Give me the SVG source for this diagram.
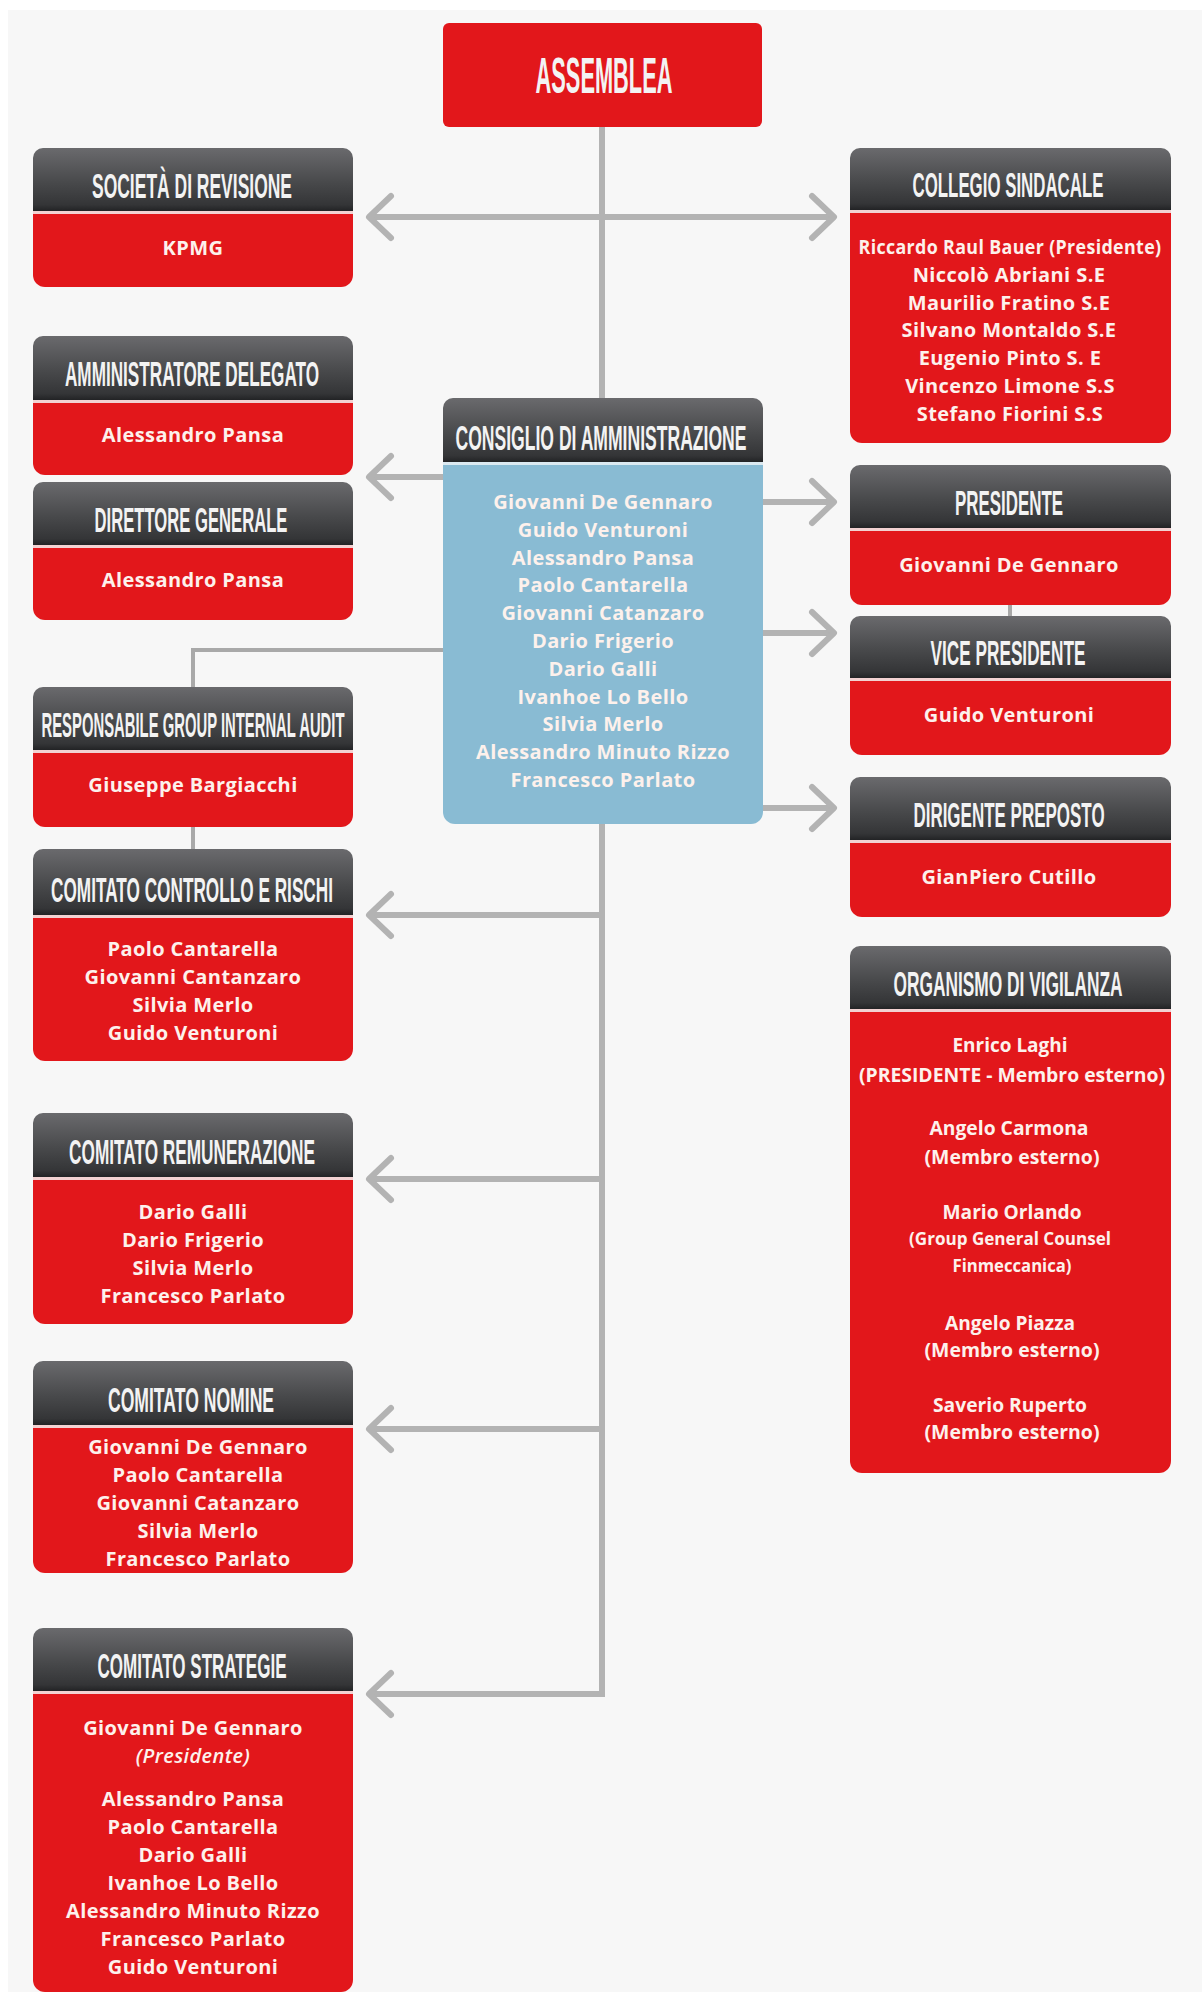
<svg xmlns="http://www.w3.org/2000/svg" width="1202" height="1992" viewBox="0 0 1202 1992">
<defs>
<linearGradient id="hdr" x1="0" y1="0" x2="0" y2="1">
<stop offset="0" stop-color="#6a6a6d"/>
<stop offset="0.55" stop-color="#48494b"/>
<stop offset="0.9" stop-color="#343537"/>
<stop offset="1" stop-color="#222325"/>
</linearGradient>
<marker id="chev" markerUnits="userSpaceOnUse" viewBox="-30 -28 36 56" markerWidth="36" markerHeight="56" refX="0" refY="0" orient="auto" overflow="visible">
<path d="M-22,-21 L0,0 L-22,21" fill="none" stroke="#b3b3b3" stroke-width="6" stroke-linecap="round" stroke-linejoin="round"/>
</marker>
</defs>
<style>
.hdr{fill:url(#hdr)}
.sep{fill:#f2d2d2}
.red{fill:#e2171b}
.blue{fill:#89bbd3}
.ht{font-family:"Liberation Sans",Arial,sans-serif;font-weight:bold;font-size:35px;fill:#f3f3f3;text-anchor:middle}
.bt{font-family:"Open Sans","Liberation Sans",sans-serif;font-weight:700;font-size:20px;letter-spacing:0.4px;fill:#fdf1ec;text-anchor:middle}
.it{font-style:italic;font-weight:600}
.ot{font-family:"Open Sans","Liberation Sans",sans-serif;font-weight:700;font-size:20px;fill:#fdf1ec;text-anchor:middle}
.ln{fill:none;stroke:#b3b3b3;stroke-width:6}
.ln2{fill:none;stroke:#a9a9a9;stroke-width:4}
.arr{marker-end:url(#chev)}
</style>
<rect x="0" y="0" width="1202" height="1992" fill="#ffffff"/>
<rect x="8" y="10" width="1194" height="1982" fill="#f7f7f7"/>

<g id="connectors">
<path class="ln arr" d="M602,127 V1694 H369"/>
<path class="ln arr" d="M602,217 H369"/>
<path class="ln arr" d="M602,217 H834"/>
<path class="ln arr" d="M443,477 H369"/>
<path class="ln arr" d="M763,502 H834"/>
<path class="ln arr" d="M763,633 H834"/>
<path class="ln arr" d="M763,808 H834"/>
<path class="ln arr" d="M602,915 H369"/>
<path class="ln arr" d="M602,1179 H369"/>
<path class="ln arr" d="M602,1429 H369"/>
<path class="ln2" d="M443,650 H193 V687"/>
<path class="ln2" d="M193,827 V849"/>
<path class="ln2" d="M1010,605 V616"/>
</g>

<g id="assemblea">
<rect class="red" x="443" y="23" width="319" height="104" rx="6"/>
<text class="ht" transform="translate(604,93) scale(0.436,1)" x="0" y="0" style="font-size:50px" textLength="314" lengthAdjust="spacingAndGlyphs">ASSEMBLEA</text>
</g>

<g id="societa-revisione">
<path class="hdr" d="M33,211 V158 A10,10 0 0 1 43,148 H343 A10,10 0 0 1 353,158 V211 Z"/>
<rect class="sep" x="33" y="211" width="320" height="3"/>
<path class="red" d="M33,214 H353 V275 A12,12 0 0 1 341,287 H45 A12,12 0 0 1 33,275 Z"/>
<text class="ht" transform="translate(192,198) scale(0.5,1)" x="0" y="0" textLength="400" lengthAdjust="spacingAndGlyphs">SOCIETÀ DI REVISIONE</text>
<text class="bt" x="193" y="255">KPMG</text>
</g>

<g id="amministratore-delegato">
<path class="hdr" d="M33,400 V346 A10,10 0 0 1 43,336 H343 A10,10 0 0 1 353,346 V400 Z"/>
<rect class="sep" x="33" y="400" width="320" height="3"/>
<path class="red" d="M33,403 H353 V463 A12,12 0 0 1 341,475 H45 A12,12 0 0 1 33,463 Z"/>
<text class="ht" transform="translate(192,386) scale(0.484,1)" x="0" y="0" textLength="525" lengthAdjust="spacingAndGlyphs">AMMINISTRATORE DELEGATO</text>
<text class="bt" x="193" y="442">Alessandro Pansa</text>
</g>

<g id="direttore-generale">
<path class="hdr" d="M33,545 V492 A10,10 0 0 1 43,482 H343 A10,10 0 0 1 353,492 V545 Z"/>
<rect class="sep" x="33" y="545" width="320" height="3"/>
<path class="red" d="M33,548 H353 V608 A12,12 0 0 1 341,620 H45 A12,12 0 0 1 33,608 Z"/>
<text class="ht" transform="translate(191,532) scale(0.475,1)" x="0" y="0" textLength="406" lengthAdjust="spacingAndGlyphs">DIRETTORE GENERALE</text>
<text class="bt" x="193" y="587">Alessandro Pansa</text>
</g>

<g id="responsabile-internal-audit">
<path class="hdr" d="M33,750 V697 A10,10 0 0 1 43,687 H343 A10,10 0 0 1 353,697 V750 Z"/>
<rect class="sep" x="33" y="750" width="320" height="3"/>
<path class="red" d="M33,753 H353 V815 A12,12 0 0 1 341,827 H45 A12,12 0 0 1 33,815 Z"/>
<text class="ht" transform="translate(193,737) scale(0.422,1)" x="0" y="0" textLength="718" lengthAdjust="spacingAndGlyphs">RESPONSABILE GROUP INTERNAL AUDIT</text>
<text class="bt" x="193" y="792">Giuseppe Bargiacchi</text>
</g>

<g id="comitato-controllo-rischi">
<path class="hdr" d="M33,915 V859 A10,10 0 0 1 43,849 H343 A10,10 0 0 1 353,859 V915 Z"/>
<rect class="sep" x="33" y="915" width="320" height="3"/>
<path class="red" d="M33,918 H353 V1049 A12,12 0 0 1 341,1061 H45 A12,12 0 0 1 33,1049 Z"/>
<text class="ht" transform="translate(192,902) scale(0.487,1)" x="0" y="0" textLength="579" lengthAdjust="spacingAndGlyphs">COMITATO CONTROLLO E RISCHI</text>
<text class="bt" x="193" y="956">Paolo Cantarella</text>
<text class="bt" x="193" y="984">Giovanni Cantanzaro</text>
<text class="bt" x="193" y="1012">Silvia Merlo</text>
<text class="bt" x="193" y="1040">Guido Venturoni</text>
</g>

<g id="comitato-remunerazione">
<path class="hdr" d="M33,1177 V1123 A10,10 0 0 1 43,1113 H343 A10,10 0 0 1 353,1123 V1177 Z"/>
<rect class="sep" x="33" y="1177" width="320" height="3"/>
<path class="red" d="M33,1180 H353 V1312 A12,12 0 0 1 341,1324 H45 A12,12 0 0 1 33,1312 Z"/>
<text class="ht" transform="translate(192,1164) scale(0.487,1)" x="0" y="0" textLength="505" lengthAdjust="spacingAndGlyphs">COMITATO REMUNERAZIONE</text>
<text class="bt" x="193" y="1219">Dario Galli</text>
<text class="bt" x="193" y="1247">Dario Frigerio</text>
<text class="bt" x="193" y="1275">Silvia Merlo</text>
<text class="bt" x="193" y="1303">Francesco Parlato</text>
</g>

<g id="comitato-nomine">
<path class="hdr" d="M33,1425 V1371 A10,10 0 0 1 43,1361 H343 A10,10 0 0 1 353,1371 V1425 Z"/>
<rect class="sep" x="33" y="1425" width="320" height="3"/>
<path class="red" d="M33,1428 H353 V1561 A12,12 0 0 1 341,1573 H45 A12,12 0 0 1 33,1561 Z"/>
<text class="ht" transform="translate(191,1412) scale(0.493,1)" x="0" y="0" textLength="337" lengthAdjust="spacingAndGlyphs">COMITATO NOMINE</text>
<text class="bt" x="198" y="1454">Giovanni De Gennaro</text>
<text class="bt" x="198" y="1482">Paolo Cantarella</text>
<text class="bt" x="198" y="1510">Giovanni Catanzaro</text>
<text class="bt" x="198" y="1538">Silvia Merlo</text>
<text class="bt" x="198" y="1566">Francesco Parlato</text>
</g>

<g id="comitato-strategie">
<path class="hdr" d="M33,1691 V1638 A10,10 0 0 1 43,1628 H343 A10,10 0 0 1 353,1638 V1691 Z"/>
<rect class="sep" x="33" y="1691" width="320" height="3"/>
<path class="red" d="M33,1694 H353 V1980 A12,12 0 0 1 341,1992 H45 A12,12 0 0 1 33,1980 Z"/>
<text class="ht" transform="translate(192,1678) scale(0.476,1)" x="0" y="0" textLength="397" lengthAdjust="spacingAndGlyphs">COMITATO STRATEGIE</text>
<text class="bt" x="193" y="1735">Giovanni De Gennaro</text>
<text class="bt it" x="193" y="1763">(Presidente)</text>
<text class="bt" x="193" y="1806">Alessandro Pansa</text>
<text class="bt" x="193" y="1834">Paolo Cantarella</text>
<text class="bt" x="193" y="1862">Dario Galli</text>
<text class="bt" x="193" y="1890">Ivanhoe Lo Bello</text>
<text class="bt" x="193" y="1918">Alessandro Minuto Rizzo</text>
<text class="bt" x="193" y="1946">Francesco Parlato</text>
<text class="bt" x="193" y="1974">Guido Venturoni</text>
</g>

<g id="consiglio-amministrazione">
<path class="hdr" d="M443,462 V408 A10,10 0 0 1 453,398 H753 A10,10 0 0 1 763,408 V462 Z"/>
<rect x="443" y="462" width="320" height="3" fill="#dbe9f0"/>
<path class="blue" d="M443,465 H763 V812 A12,12 0 0 1 751,824 H455 A12,12 0 0 1 443,812 Z"/>
<text class="ht" transform="translate(601,450) scale(0.5,1)" x="0" y="0" textLength="582" lengthAdjust="spacingAndGlyphs">CONSIGLIO DI AMMINISTRAZIONE</text>
<text class="bt" x="603" y="509">Giovanni De Gennaro</text>
<text class="bt" x="603" y="536.8">Guido Venturoni</text>
<text class="bt" x="603" y="564.6">Alessandro Pansa</text>
<text class="bt" x="603" y="592.4">Paolo Cantarella</text>
<text class="bt" x="603" y="620.2">Giovanni Catanzaro</text>
<text class="bt" x="603" y="648">Dario Frigerio</text>
<text class="bt" x="603" y="675.8">Dario Galli</text>
<text class="bt" x="603" y="703.6">Ivanhoe Lo Bello</text>
<text class="bt" x="603" y="731.4">Silvia Merlo</text>
<text class="bt" x="603" y="759.2">Alessandro Minuto Rizzo</text>
<text class="bt" x="603" y="787">Francesco Parlato</text>
</g>

<g id="collegio-sindacale">
<path class="hdr" d="M850,210 V158 A10,10 0 0 1 860,148 H1161 A10,10 0 0 1 1171,158 V210 Z"/>
<rect class="sep" x="850" y="210" width="321" height="3"/>
<path class="red" d="M850,213 H1171 V431 A12,12 0 0 1 1159,443 H862 A12,12 0 0 1 850,431 Z"/>
<text class="ht" transform="translate(1008,197) scale(0.481,1)" x="0" y="0" textLength="397" lengthAdjust="spacingAndGlyphs">COLLEGIO SINDACALE</text>
<text class="bt" x="1010" y="254" textLength="303" lengthAdjust="spacingAndGlyphs">Riccardo Raul Bauer (Presidente)</text>
<text class="bt" x="1009" y="281.8">Niccolò Abriani S.E</text>
<text class="bt" x="1009" y="309.6">Maurilio Fratino S.E</text>
<text class="bt" x="1009" y="337.4">Silvano Montaldo S.E</text>
<text class="bt" x="1010" y="365.2">Eugenio Pinto S. E</text>
<text class="bt" x="1010" y="393">Vincenzo Limone S.S</text>
<text class="bt" x="1010" y="420.8">Stefano Fiorini S.S</text>
</g>

<g id="presidente">
<path class="hdr" d="M850,528 V475 A10,10 0 0 1 860,465 H1161 A10,10 0 0 1 1171,475 V528 Z"/>
<rect class="sep" x="850" y="528" width="321" height="3"/>
<path class="red" d="M850,531 H1171 V593 A12,12 0 0 1 1159,605 H862 A12,12 0 0 1 850,593 Z"/>
<text class="ht" transform="translate(1009,515) scale(0.483,1)" x="0" y="0" textLength="224" lengthAdjust="spacingAndGlyphs">PRESIDENTE</text>
<text class="bt" x="1009" y="572">Giovanni De Gennaro</text>
</g>

<g id="vice-presidente">
<path class="hdr" d="M850,678 V626 A10,10 0 0 1 860,616 H1161 A10,10 0 0 1 1171,626 V678 Z"/>
<rect class="sep" x="850" y="678" width="321" height="3"/>
<path class="red" d="M850,681 H1171 V743 A12,12 0 0 1 1159,755 H862 A12,12 0 0 1 850,743 Z"/>
<text class="ht" transform="translate(1008,665) scale(0.492,1)" x="0" y="0" textLength="315" lengthAdjust="spacingAndGlyphs">VICE PRESIDENTE</text>
<text class="bt" x="1009" y="722">Guido Venturoni</text>
</g>

<g id="dirigente-preposto">
<path class="hdr" d="M850,840 V787 A10,10 0 0 1 860,777 H1161 A10,10 0 0 1 1171,787 V840 Z"/>
<rect class="sep" x="850" y="840" width="321" height="3"/>
<path class="red" d="M850,843 H1171 V905 A12,12 0 0 1 1159,917 H862 A12,12 0 0 1 850,905 Z"/>
<text class="ht" transform="translate(1009,827) scale(0.484,1)" x="0" y="0" textLength="395" lengthAdjust="spacingAndGlyphs">DIRIGENTE PREPOSTO</text>
<text class="bt" x="1009" y="884">GianPiero Cutillo</text>
</g>

<g id="organismo-vigilanza">
<path class="hdr" d="M850,1009 V956 A10,10 0 0 1 860,946 H1161 A10,10 0 0 1 1171,956 V1009 Z"/>
<rect class="sep" x="850" y="1009" width="321" height="3"/>
<path class="red" d="M850,1012 H1171 V1461 A12,12 0 0 1 1159,1473 H862 A12,12 0 0 1 850,1461 Z"/>
<text class="ht" transform="translate(1008,996) scale(0.495,1)" x="0" y="0" textLength="463" lengthAdjust="spacingAndGlyphs">ORGANISMO DI VIGILANZA</text>
<text class="ot" x="1010" y="1052" textLength="115" lengthAdjust="spacingAndGlyphs">Enrico Laghi</text>
<text class="ot" x="1012" y="1082" textLength="306" lengthAdjust="spacingAndGlyphs">(PRESIDENTE - Membro esterno)</text>
<text class="ot" x="1009" y="1135" textLength="159" lengthAdjust="spacingAndGlyphs">Angelo Carmona</text>
<text class="ot" x="1012" y="1164" textLength="175" lengthAdjust="spacingAndGlyphs">(Membro esterno)</text>
<text class="ot" x="1012" y="1219" textLength="139" lengthAdjust="spacingAndGlyphs">Mario Orlando</text>
<text class="ot" x="1010" y="1245" style="font-size:18px" textLength="202" lengthAdjust="spacingAndGlyphs">(Group General Counsel</text>
<text class="ot" x="1012" y="1272" style="font-size:18px" textLength="119" lengthAdjust="spacingAndGlyphs">Finmeccanica)</text>
<text class="ot" x="1010" y="1330" textLength="130" lengthAdjust="spacingAndGlyphs">Angelo Piazza</text>
<text class="ot" x="1012" y="1357" textLength="175" lengthAdjust="spacingAndGlyphs">(Membro esterno)</text>
<text class="ot" x="1010" y="1412" textLength="154" lengthAdjust="spacingAndGlyphs">Saverio Ruperto</text>
<text class="ot" x="1012" y="1439" textLength="175" lengthAdjust="spacingAndGlyphs">(Membro esterno)</text>
</g>
</svg>
